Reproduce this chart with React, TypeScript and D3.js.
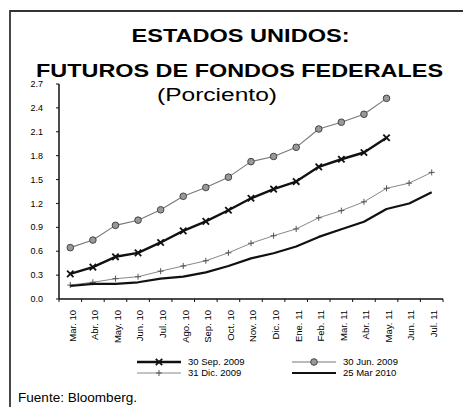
import React from "react";
import * as d3 from "d3";

const months = [
  "Mar. 10", "Abr. 10", "May. 10", "Jun. 10", "Jul. 10", "Ago. 10", "Sep. 10",
  "Oct. 10", "Nov. 10", "Dic. 10", "Ene. 11", "Feb. 11", "Mar. 11", "Abr. 11",
  "May. 11", "Jun. 11", "Jul. 11",
];

const sep2009 = [0.315, 0.4, 0.53, 0.58, 0.71, 0.855, 0.975, 1.115, 1.265, 1.38, 1.475, 1.66, 1.755, 1.84, 2.025];
const jun2009 = [0.645, 0.74, 0.925, 0.99, 1.12, 1.29, 1.4, 1.53, 1.725, 1.79, 1.905, 2.135, 2.22, 2.32, 2.52];
const dic2009 = [0.175, 0.21, 0.255, 0.28, 0.35, 0.415, 0.48, 0.58, 0.7, 0.795, 0.88, 1.02, 1.11, 1.22, 1.39, 1.455, 1.59];
const mar2010 = [0.163, 0.19, 0.19, 0.21, 0.255, 0.28, 0.335, 0.415, 0.51, 0.575, 0.66, 0.78, 0.875, 0.97, 1.13, 1.2, 1.34];

const yTicks = [0, 0.3, 0.6, 0.9, 1.2, 1.5, 1.8, 2.1, 2.4, 2.7];

const W = 466;
const H = 407;
const font = "'Liberation Sans', Arial, sans-serif";

// marker drawers
function XMark({ x, y }: { x: number; y: number }) {
  const s = 3.2;
  return (
    <g stroke="#111" strokeWidth={1.8}>
      <line x1={x - s} y1={y - s} x2={x + s} y2={y + s} />
      <line x1={x - s} y1={y + s} x2={x + s} y2={y - s} />
    </g>
  );
}
function CircleMark({ x, y }: { x: number; y: number }) {
  return <circle cx={x} cy={y} r={3.3} fill="#999" stroke="#444" strokeWidth={1} />;
}
function PlusMark({ x, y }: { x: number; y: number }) {
  const s = 3;
  return (
    <g stroke="#555" strokeWidth={1}>
      <line x1={x - s} y1={y} x2={x + s} y2={y} />
      <line x1={x} y1={y - s} x2={x} y2={y + s} />
    </g>
  );
}

export default function App() {
  const x = d3.scaleBand<string>().domain(months).range([59, 443]);
  const y = d3.scaleLinear().domain([0, 2.7]).range([299, 84]);
  const cx = (i: number) => (x(months[i]) as number) + x.bandwidth() / 2;

  const line = d3
    .line<number>()
    .x((_, i) => cx(i))
    .y((d) => y(d));

  const series = [
    { name: "30 Jun. 2009", data: jun2009, stroke: "#777", width: 1.1, Mark: CircleMark },
    { name: "31 Dic. 2009", data: dic2009, stroke: "#888", width: 1, Mark: PlusMark },
    { name: "25 Mar  2010", data: mar2010, stroke: "#111", width: 2.2, Mark: null },
    { name: "30 Sep. 2009", data: sep2009, stroke: "#111", width: 2.4, Mark: XMark },
  ];

  const boundaries = months.map((m) => x(m) as number).concat([443]);

  const legend = [
    { s: series[3], lx: 137, ly: 362 },
    { s: series[0], lx: 292, ly: 362 },
    { s: series[1], lx: 137, ly: 373 },
    { s: series[2], lx: 292, ly: 373 },
  ];

  return (
    <svg width={W} height={H} style={{ position: "absolute", left: 0, top: 0 }} fontFamily={font}>
      <rect width={W} height={H} fill="#fff" />
      {/* frame */}
      <line x1={10} y1={11} x2={463} y2={11} stroke="#333" strokeWidth={1.8} />
      <line x1={10} y1={10} x2={10} y2={H} stroke="#333" strokeWidth={1.8} />

      {/* titles */}
      <text x={240.5} y={41.7} textAnchor="middle" fontSize={19} fontWeight="bold" textLength={218} lengthAdjust="spacingAndGlyphs">
        ESTADOS UNIDOS:
      </text>
      <text x={239.5} y={76.5} textAnchor="middle" fontSize={19} fontWeight="bold" textLength={407} lengthAdjust="spacingAndGlyphs">
        FUTUROS DE FONDOS FEDERALES
      </text>
      <text x={217} y={100.5} textAnchor="middle" fontSize={17.5} textLength={120} lengthAdjust="spacingAndGlyphs">
        (Porciento)
      </text>

      {/* y axis */}
      <line x1={59} y1={y(2.7)} x2={59} y2={y(0)} stroke="#111" strokeWidth={1.5} />
      {yTicks.map((t) => (
        <g key={t}>
          <line x1={56} x2={59} y1={y(t)} y2={y(t)} stroke="#111" strokeWidth={1} />
          <text x={43} y={y(t)} dy="0.35em" textAnchor="end" fontSize={9}>
            {t.toFixed(1)}
          </text>
        </g>
      ))}

      {/* x axis */}
      <line x1={59} y1={y(0)} x2={443} y2={y(0)} stroke="#111" strokeWidth={1.5} />
      {boundaries.map((b, i) => (
        <line key={i} x1={b} x2={b} y1={y(0)} y2={y(0) + 3} stroke="#111" strokeWidth={1} />
      ))}
      {months.map((m, i) => (
        <text
          key={m}
          transform={`translate(${cx(i) + 2},310) rotate(-90)`}
          textAnchor="end"
          dy="0.35em"
          fontSize={9.5}
        >
          {m}
        </text>
      ))}

      {/* lines */}
      {series.map((s) => (
        <g key={s.name}>
          <path d={line(s.data) as string} fill="none" stroke={s.stroke} strokeWidth={s.width} strokeLinejoin="round" />
          {s.Mark && s.data.map((d, i) => <s.Mark key={i} x={cx(i)} y={y(d)} />)}
        </g>
      ))}

      {/* legend */}
      {legend.map(({ s, lx, ly }) => (
        <g key={s.name}>
          <line x1={lx} x2={lx + 44} y1={ly} y2={ly} stroke={s.stroke} strokeWidth={s.width} />
          {s.Mark && <s.Mark x={lx + 22} y={ly} />}
          <text x={lx + 51} y={ly} dy="0.35em" fontSize={9.5}>
            {s.name}
          </text>
        </g>
      ))}

      <text x={18} y={402} fontSize={12} textLength={119} lengthAdjust="spacingAndGlyphs">
        Fuente: Bloomberg.
      </text>
    </svg>
  );
}
